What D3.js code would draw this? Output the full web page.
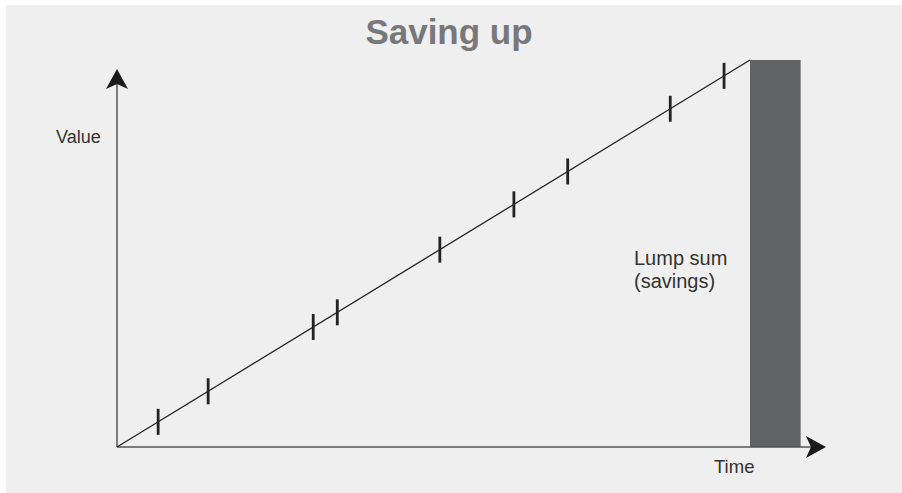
<!DOCTYPE html>
<html>
<head>
<meta charset="utf-8">
<style>
  body { margin: 0; background: #ffffff; }
  svg { display: block; }
  text { font-family: "Liberation Sans", Arial, sans-serif; }
</style>
</head>
<body>
<script src="https://d3js.org/d3.v7.min.js"></script>
<svg width="902" height="493"></svg>
<script>
// savings grow steadily; the ticks mark each deposit (time 0-100)
var depositTimes = [6.5, 14.4, 31, 34.8, 51, 62.7, 71.2, 87.4, 95.9];
var lineStart = {time: 0, value: 0};
var lineEnd = {time: 100, value: 100};
var lumpSum = {start: 100, end: 108, value: 100};
var axisEnds = {time: 112, value: 97.7};

var svg = d3.select("svg");

svg.append("rect")
    .attr("x", 6).attr("y", 5)
    .attr("width", 896).attr("height", 488)
    .attr("fill", "#efefef");

var x = d3.scaleLinear().domain([0, 100]).range([117, 750]);
var y = d3.scaleLinear().domain([0, 100]).range([447, 60]);

// title
svg.append("text")
    .attr("x", 449).attr("y", 44)
    .attr("text-anchor", "middle")
    .style("font-size", "35px")
    .style("font-weight", "bold")
    .attr("fill", "#77787a")
    .text("Saving up");

// lump sum bar
svg.append("rect")
    .attr("x", x(lumpSum.start))
    .attr("y", y(lumpSum.value))
    .attr("width", x(lumpSum.end) - x(lumpSum.start))
    .attr("height", y(0) - y(lumpSum.value))
    .attr("fill", "#616264");

// axes
svg.append("line")
    .attr("x1", x(0)).attr("y1", y(0))
    .attr("x2", x(0)).attr("y2", y(axisEnds.value) + 10)
    .attr("stroke", "#555").attr("stroke-width", 1.5);
svg.append("line")
    .attr("x1", x(0)).attr("y1", y(0))
    .attr("x2", x(axisEnds.time) - 10).attr("y2", y(0))
    .attr("stroke", "#555").attr("stroke-width", 1.5);

// arrow heads
var ax = x(0), ay = y(axisEnds.value);
svg.append("path")
    .attr("d", "M" + ax + "," + ay + "L" + (ax + 11) + "," + (ay + 20) +
        "L" + ax + "," + (ay + 15) + "L" + (ax - 11) + "," + (ay + 20) + "Z")
    .attr("fill", "#1a1a1a");
var bx = x(axisEnds.time), by = y(0);
svg.append("path")
    .attr("d", "M" + bx + "," + by + "L" + (bx - 20) + "," + (by - 11) +
        "L" + (bx - 15) + "," + by + "L" + (bx - 20) + "," + (by + 11) + "Z")
    .attr("fill", "#1a1a1a");

// savings line
svg.append("line")
    .attr("x1", x(lineStart.time)).attr("y1", y(lineStart.value))
    .attr("x2", x(lineEnd.time)).attr("y2", y(lineEnd.value))
    .attr("stroke", "#222").attr("stroke-width", 1.3);

// deposit ticks
var along = d3.scaleLinear()
    .domain([lineStart.time, lineEnd.time])
    .range([lineStart.value, lineEnd.value]);
svg.selectAll(".tick").data(depositTimes).enter()
    .append("line")
    .attr("class", "tick")
    .attr("x1", function(d) { return x(d); })
    .attr("x2", function(d) { return x(d); })
    .attr("y1", function(d) { return y(along(d)) - 13; })
    .attr("y2", function(d) { return y(along(d)) + 13; })
    .attr("stroke", "#222").attr("stroke-width", 2.8);

// labels
svg.append("text")
    .attr("x", 56).attr("y", 143)
    .style("font-size", "18px").attr("fill", "#333")
    .text("Value");
svg.append("text")
    .attr("x", 714).attr("y", 473)
    .style("font-size", "18.5px").attr("fill", "#333")
    .text("Time");
svg.append("text")
    .attr("x", 634).attr("y", 265)
    .style("font-size", "20px").attr("fill", "#333")
    .text("Lump sum");
svg.append("text")
    .attr("x", 634).attr("y", 288)
    .style("font-size", "20px").attr("fill", "#333")
    .text("(savings)");
</script>
</body>
</html>
